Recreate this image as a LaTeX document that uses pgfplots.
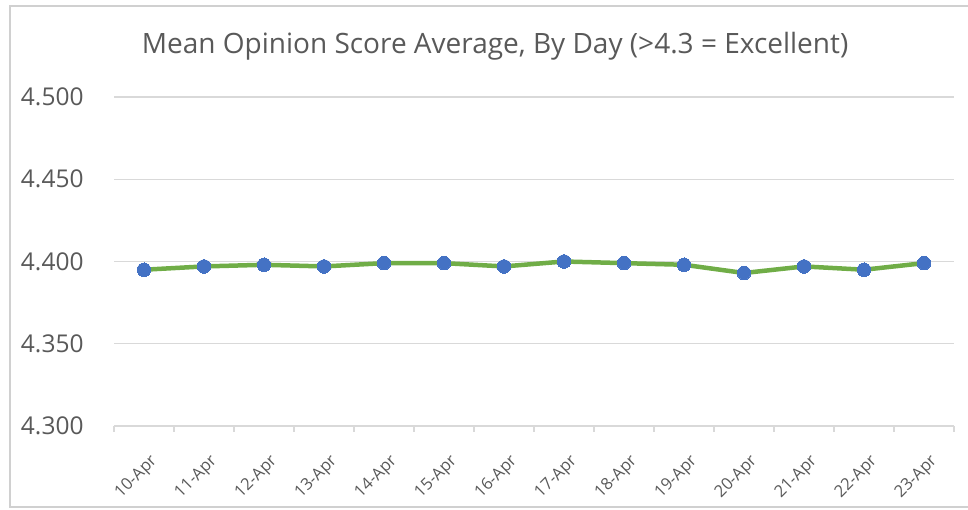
\documentclass[border=0pt]{standalone}
\usepackage{pgfplots}
\pgfplotsset{compat=1.18}
\usepackage{fontspec}
\setmainfont{Open Sans}
\definecolor{txt}{HTML}{595959}
\definecolor{gridc}{HTML}{D9D9D9}
\definecolor{framec}{HTML}{D0D0D0}
\definecolor{lgreen}{HTML}{70AD47}
\definecolor{mblue}{HTML}{4472C4}
\begin{document}
\begin{tikzpicture}[x=1pt,y=1pt]
\useasboundingbox (0,0) rectangle (968,510);
\draw[framec, line width=1.5pt] (968,504) -- (10,504) -- (10,3) -- (968,3);
\begin{axis}[
  at={(114pt,84pt)}, anchor=south west,
  scale only axis, width=840pt, height=329pt,
  xmin=-0.5, xmax=13.5, ymin=4.3, ymax=4.5,
  axis x line*=bottom, axis y line*=left,
  y axis line style={draw=none},
  x axis line style={draw=gridc, line width=1.2pt},
  ytick={4.3,4.35,4.4,4.45,4.5},
  ymajorgrids, grid style={draw=gridc, line width=1.2pt},
  major y tick style={draw=none},
  xtick={0,...,13},
  xticklabels={10-Apr,11-Apr,12-Apr,13-Apr,14-Apr,15-Apr,16-Apr,17-Apr,18-Apr,19-Apr,20-Apr,21-Apr,22-Apr,23-Apr},
  major x tick style={draw=none},
  minor xtick={-0.5,0.5,...,13.5},
  minor x tick style={draw=gridc, line width=1.2pt},
  minor tick length=6pt,
  tick align=outside,
  /pgf/number format/assume math mode=true,
  yticklabel={\pgfmathprintnumber[fixed,fixed zerofill,precision=3]{\tick}},
  yticklabel style={font=\fontsize{24.5}{24.5}\selectfont, text=txt, inner sep=0pt, anchor=east, xshift=-26pt},
  xticklabel style={font=\fontsize{16.5}{16.5}\selectfont, text=txt, inner sep=0pt, xshift=5pt, yshift=-23pt, rotate=45, anchor=north east},
  title={Mean Opinion Score Average, By Day (>4.3 = Excellent)},
  title style={font=\fontsize{28}{28}\selectfont, text=txt, at={(0.5,1)}, anchor=center, yshift=45pt, xshift=-39pt},
  clip=false,
]
\addplot[color=lgreen, line width=4.5pt, mark=*, mark size=6.8pt, mark options={fill=mblue, draw=mblue, line width=0pt}]
coordinates {
(0,4.395) (1,4.397) (2,4.398) (3,4.397) (4,4.399) (5,4.399) (6,4.397)
(7,4.400) (8,4.399) (9,4.398) (10,4.393) (11,4.397) (12,4.395) (13,4.399)
};
\end{axis}
\end{tikzpicture}
\end{document}
